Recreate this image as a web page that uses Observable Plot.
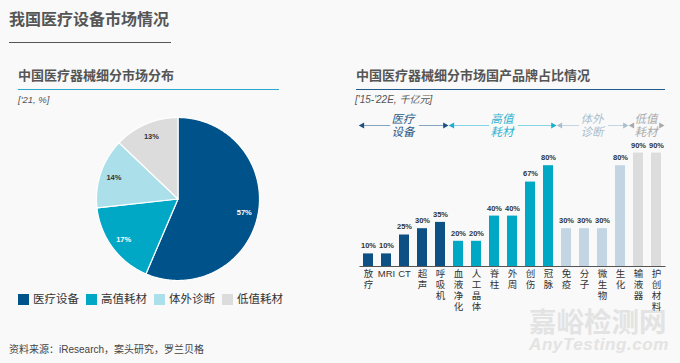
<!DOCTYPE html>
<html><head><meta charset="utf-8">
<script src="https://cdn.jsdelivr.net/npm/d3@7"></script>
<script src="https://cdn.jsdelivr.net/npm/@observablehq/plot@0.6"></script>
<style>
html,body{margin:0;padding:0;background:#f9f9f9;}
#root{position:relative;width:680px;height:363px;background:#f9f9f9;font-family:"Liberation Sans","Noto Sans CJK SC",sans-serif;overflow:hidden;}
.abs{position:absolute;white-space:nowrap;}
.abs svg{display:block;}
</style></head><body><div id="root"></div>
<script>
// ---------- data ----------
const pieCategories = ["医疗设备","高值耗材","体外诊断","低值耗材"];
const pieValues = [57, 17, 14, 13];
const barCategories = ["放疗","MRI","CT","超声","呼吸机","血液净化","人工晶体","脊柱","外周","创伤","冠脉","免疫","分子","微生物","生化","输液器","护创材料"];
const barValues = [10, 10, 25, 30, 35, 20, 20, 40, 40, 67, 80, 30, 30, 30, 80, 90, 90];
const barGroups = ["医疗设备","医疗设备","医疗设备","医疗设备","医疗设备","高值耗材","高值耗材","高值耗材","高值耗材","高值耗材","高值耗材","体外诊断","体外诊断","体外诊断","体外诊断","低值耗材","低值耗材"];
const groupNames = ["医疗设备","高值耗材","体外诊断","低值耗材"];

// ---------- styles ----------
const pieColors = ["#00538a","#00a8c6","#abdfea","#dcdcdd"];
const barColors = ["#0d5184","#00a8c6","#c3d5e2","#dcdcdd"];
const groupTextColors = ["#2a5b87","#2fb4d0","#a9bfcf","#ababab"];
const groupLineColors = ["#86a3c0","#86d5e5","#c6d4df","#c9c9c9"];
const groupHeadColors = ["#1d4f80","#1aaed0","#a9bfcf","#a9a9a9"];
const FONT = '"Liberation Sans","Noto Sans CJK SC",sans-serif';

const root = document.getElementById("root");
function addText(txt, css){ const d=document.createElement("div"); d.className="abs"; d.textContent=txt; Object.assign(d.style, css); root.appendChild(d); return d; }
function addBox(css){ const d=document.createElement("div"); d.className="abs"; Object.assign(d.style, css); root.appendChild(d); return d; }
function addSvg(svg, left, top){ const d=document.createElement("div"); d.className="abs"; d.style.left=left+"px"; d.style.top=top+"px"; d.appendChild(svg); root.appendChild(d); }

// ---------- watermark (behind everything) ----------
addText("嘉峪检测网",{left:"529px",top:"306px",fontSize:"27.5px",fontWeight:"bold",color:"#e3e3e3",lineHeight:"28px",fontFamily:'"Noto Sans CJK SC",sans-serif'});
addText("AnyTesting.com",{left:"529px",top:"336px",fontSize:"17px",fontWeight:"bold",fontStyle:"italic",color:"#e3e3e3",lineHeight:"17px",letterSpacing:"0.6px"});

// ---------- titles ----------
addText("我国医疗设备市场情况",{left:"9px",top:"10px",fontSize:"16px",fontWeight:"bold",color:"#555",lineHeight:"20px"});
addBox({left:"9px",top:"41.5px",width:"162px",height:"1.2px",background:"#555"});

addText("中国医疗器械细分市场分布",{left:"18px",top:"67px",fontSize:"13px",fontWeight:"bold",color:"#555",lineHeight:"17px"});
addBox({left:"18px",top:"88.5px",width:"261px",height:"1.5px",background:"#2aa8cf"});
addText("['21, %]",{left:"18px",top:"94px",fontSize:"9.5px",fontStyle:"italic",color:"#555",lineHeight:"12px"});

addText("中国医疗器械细分市场国产品牌占比情况",{left:"356px",top:"67px",fontSize:"13px",fontWeight:"bold",color:"#555",lineHeight:"17px"});
addBox({left:"356px",top:"88.5px",width:"309px",height:"1.5px",background:"#1f5b8c"});
addText("['15-'22E, 千亿元]",{left:"355px",top:"94px",fontSize:"10px",fontStyle:"italic",color:"#555",lineHeight:"12px"});

// ---------- pie ----------
const arcs = d3.pie().sort(null)(pieValues);
const slices = arcs.map(a => {
  const pts = [{x:0,y:0}];
  const n = Math.max(2, Math.ceil((a.endAngle - a.startAngle) / 0.01));
  for (let k = 0; k <= n; k++) {
    const t = a.startAngle + (a.endAngle - a.startAngle) * k / n;
    pts.push({x: Math.sin(t), y: Math.cos(t)});
  }
  pts.push({x:0,y:0});
  return pts;
});
const pieLabels = arcs.map((a,i) => {
  const m = (a.startAngle + a.endAngle) / 2;
  return {x: 0.83*Math.sin(m), y: 0.83*Math.cos(m), t: pieValues[i] + "%", dark: i >= 2};
});
const pie = Plot.plot({
  width: 167, height: 167, margin: 2,
  x: {domain: [-1, 1], axis: null},
  y: {domain: [-1, 1], axis: null},
  style: {background: "transparent", fontFamily: FONT},
  marks: [
    ...slices.map((pts, i) => Plot.line(pts, {x: "x", y: "y", fill: pieColors[i], stroke: "white", strokeWidth: 1.2, curve: "linear"})),
    Plot.text(pieLabels.filter(d => !d.dark), {x: "x", y: "y", text: "t", fill: "white", fontSize: 7.5, fontWeight: "bold"}),
    Plot.text(pieLabels.filter(d => d.dark), {x: "x", y: "y", text: "t", fill: "#333", fontSize: 7.5, fontWeight: "bold"})
  ]
});
addSvg(pie, 94, 115);

// legend
const legend = document.createElement("div");
legend.className = "abs";
Object.assign(legend.style, {left: "18px", top: "292px", display: "flex", alignItems: "center", fontSize: "11.5px", color: "#333", lineHeight: "14px"});
pieCategories.forEach((c, i) => {
  const item = document.createElement("div");
  Object.assign(item.style, {display: "flex", alignItems: "center", marginRight: "7px"});
  const sw = document.createElement("div");
  Object.assign(sw.style, {width: "11px", height: "11px", background: pieColors[i], marginRight: "4px"});
  const lb = document.createElement("span"); lb.textContent = c;
  item.appendChild(sw); item.appendChild(lb); legend.appendChild(item);
});
root.appendChild(legend);

// ---------- bar chart ----------
const barData = barCategories.map((c, i) => ({cat: c, v: barValues[i], g: barGroups[i]}));
const fmtCat = d => /^[A-Za-z]+$/.test(d) ? d : d.split("").join("\n");
const bars = Plot.plot({
  width: 340, height: 196,
  marginLeft: 19.5, marginRight: 14.5, marginTop: 10, marginBottom: 60,
  x: {domain: barCategories, paddingInner: 0.44, paddingOuter: 0.22, axis: null},
  y: {domain: [0, 100], axis: null},
  color: {domain: groupNames, range: barColors},
  style: {background: "transparent", fontFamily: FONT},
  marks: [
    Plot.barY(barData, {x: "cat", y: "v", fill: "g"}),
    Plot.ruleY([0], {stroke: "#555", strokeWidth: 1}),
    Plot.text(barData, {x: "cat", y: "v", text: d => d.v + "%", dy: -8, fontSize: 7.5, fontWeight: "bold", fill: "#333"}),
    Plot.text(barData, {x: "cat", y: 0, text: d => fmtCat(d.cat), lineAnchor: "top", dy: 2.5, fontSize: 9.5, lineHeight: 1.16, fill: "#333"})
  ]
});
addSvg(bars, 340, 130);

// group arrows row (linear index scale aligned with the band steps)
const spans = groupNames.map((g, gi) => {
  const idx = barGroups.map((b, i) => b === g ? i : -1).filter(i => i >= 0);
  const start = idx[0] - 0.5, end = idx[idx.length - 1] + 0.5, mid = (start + end) / 2;
  return {g, gi, start, end, mid};
});
const segs = spans.flatMap(s => [
  {x1: s.start + 0.05, x2: s.mid - 0.8, gi: s.gi},
  {x1: s.mid + 0.8, x2: s.end - 0.2, gi: s.gi}
]).filter(s => s.x2 > s.x1);
const heads = spans.flatMap(s => [
  {x: s.start + 0.13, rot: -90, gi: s.gi},
  {x: s.end - 0.28, rot: 90, gi: s.gi}
]);
const arrowMarks = [];
groupNames.forEach((g, gi) => {
  arrowMarks.push(Plot.ruleY(segs.filter(s => s.gi === gi), {x1: "x1", x2: "x2", y: 0.5, stroke: groupLineColors[gi], strokeWidth: 1}));
  arrowMarks.push(Plot.dot(heads.filter(h => h.gi === gi), {x: "x", y: 0.5, symbol: "triangle", r: 2.3, rotate: "rot", fill: groupHeadColors[gi], stroke: "none"}));
  arrowMarks.push(Plot.text(spans.filter(s => s.gi === gi), {x: "mid", y: 0.5, text: d => d.g.slice(0, 2) + "\n" + d.g.slice(2), fill: groupTextColors[gi], fontSize: 11.5, fontStyle: "italic", lineHeight: 1.1, dx: -2}));
});
const arrows = Plot.plot({
  width: 340, height: 40,
  marginLeft: 19.5, marginRight: 14.5, marginTop: 0, marginBottom: 0,
  x: {domain: [-0.5, barCategories.length - 0.5], axis: null},
  y: {domain: [0, 1], axis: null},
  style: {background: "transparent", fontFamily: FONT},
  marks: arrowMarks
});
addSvg(arrows, 340, 105);

// ---------- footer ----------
addText("资料来源：iResearch，案头研究，罗兰贝格",{left:"9px",top:"343px",fontSize:"10px",color:"#444",lineHeight:"13px"});
</script></body></html>
